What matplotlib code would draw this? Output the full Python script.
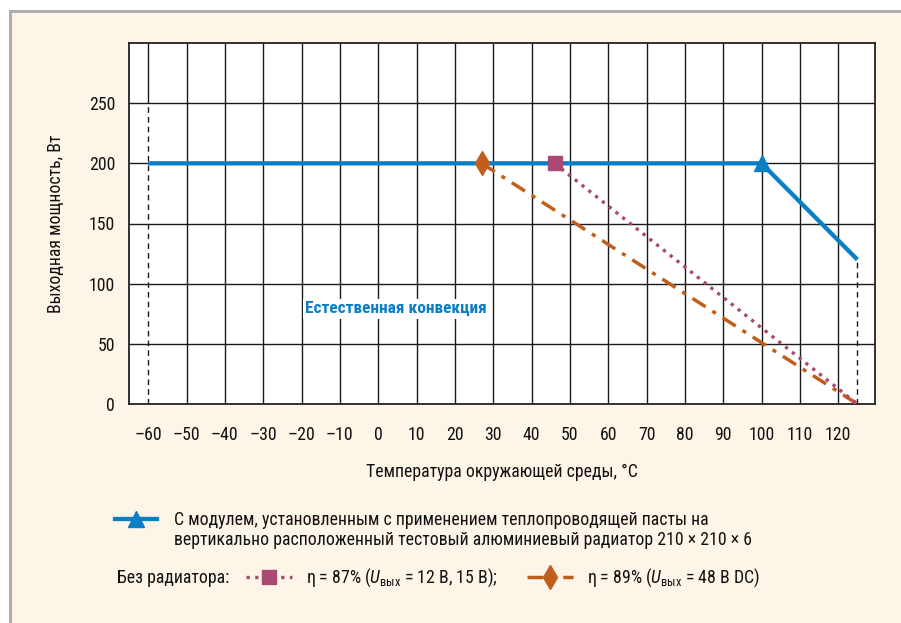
import matplotlib
matplotlib.use("Agg")
import matplotlib.pyplot as plt
from matplotlib import font_manager as fm
from matplotlib.lines import Line2D
from matplotlib.patches import Rectangle

# pick a narrow font if one is installed
fam = 'Liberation Sans'
for f in ['Roboto Condensed', 'Liberation Sans Narrow', 'DejaVu Sans Condensed', 'Open Sans Condensed']:
    try:
        fm.findfont(fm.FontProperties(family=f), fallback_to_default=False)
        fam = f
        break
    except ValueError:
        pass
plt.rcParams['font.family'] = [fam, 'DejaVu Sans']
plt.rcParams['mathtext.fontset'] = 'custom'
plt.rcParams['mathtext.rm'] = fam
plt.rcParams['mathtext.it'] = fam + ':italic'

# data
t_conv = [-60, 100, 125]
p_conv = [200, 200, 120]
t_87 = [46, 125]
p_87 = [200, 0]
t_89 = [27, 125]
p_89 = [200, 0]
x_ticks = list(range(-60, 121, 10))
y_ticks = [0, 50, 100, 150, 200, 250]

blue = '#0a7fc6'
pink = '#a84a72'
orange = '#c05f1c'
cream = '#fdf5e8'
fs = 12.8

fig = plt.figure(figsize=(9.01, 6.23), dpi=100)
fig.patch.set_facecolor('white')
fig.patches.append(Rectangle((10 / 901, 0), 1, 1 - 11 / 623, transform=fig.transFigure,
                             facecolor=cream, edgecolor='none', zorder=-2))
fig.add_artist(Line2D([10 / 901, 1], [1 - 11 / 623] * 2, transform=fig.transFigure,
                      color='#a9a9a9', lw=2, zorder=-1))
fig.add_artist(Line2D([10 / 901] * 2, [0, 1 - 11 / 623], transform=fig.transFigure,
                      color='#a9a9a9', lw=2, zorder=-1))

ax = fig.add_axes([129 / 901, 1 - 404 / 623, 746 / 901, 361 / 623])
ax.set_facecolor('white')
ax.set_xlim(-65, 129.6)
ax.set_ylim(0, 300)

# grid
gc = '#1a1a1a'
for x in x_ticks:
    if x == x_ticks[0]:
        ax.vlines(x, 250, 300, color=gc, lw=1, zorder=1)
        ax.vlines(x, 0, 250, color=gc, lw=1, linestyles=(0, (4, 3)), zorder=1)
    else:
        ax.vlines(x, 0, 300, color=gc, lw=1, zorder=1)
for y in y_ticks[1:]:
    ax.hlines(y, -65, 129.6, color=gc, lw=1, zorder=1)
ax.vlines(t_conv[-1], 0, p_conv[-1], color=gc, lw=1, linestyles=(0, (4, 3)), zorder=1)

for s in ax.spines.values():
    s.set_linewidth(1.3)
    s.set_color('#222222')

ax.set_xticks(x_ticks)
ax.set_yticks(y_ticks)
ax.xaxis.set_major_formatter(lambda v, p: f'{v:.0f}'.replace('-', '\u2013'))
ax.tick_params(length=0, labelsize=fs, colors='#111111')
ax.tick_params(axis='x', pad=15.5)
ax.tick_params(axis='y', pad=10)

ls87 = (0, (1, 1.6))
ls89 = (0, (4.5, 2.3, 1.2, 2.3))

ax.plot(t_89, p_89, color=orange, lw=2.5, ls=ls89, zorder=3, dash_capstyle='butt')
ax.plot(t_89[:1], p_89[:1], marker='d', ms=12.5, color=orange, ls='none', zorder=5)
ax.plot(t_87, p_87, color=pink, lw=2.4, ls=ls87, zorder=3, dash_capstyle='butt')
ax.plot(t_conv, p_conv, color=blue, lw=3.1, zorder=4, solid_capstyle='butt')
ax.plot(t_conv[1:2], p_conv[1:2], marker='^', ms=11, color=blue, ls='none', zorder=5)
ax.plot(t_87[:1], p_87[:1], marker='s', ms=10, color=pink, ls='none', zorder=5)

ax.text(4.7, 79, 'Естественная конвекция', color=blue, fontsize=12.5, fontweight='bold',
        ha='center', va='center', zorder=6,
        bbox=dict(facecolor='white', edgecolor='none', pad=1.5))

ax.set_xlabel('Температура окружающей среды, °C', fontsize=fs, labelpad=14, color='#111111')
ax.set_ylabel('Выходная мощность, Вт', fontsize=fs, labelpad=17, color='#111111')

# legend
h_conv = Line2D([], [], color=blue, lw=3.1, marker='^', ms=11)
h_87 = Line2D([], [], color=pink, lw=2.4, ls=ls87, marker='s', ms=10)
h_89 = Line2D([], [], color=orange, lw=2.5, ls=ls89, marker='d', ms=12)

leg1 = fig.legend([h_conv], ['С модулем, установленным с применением теплопроводящей пасты на'],
                  loc='center left', bbox_to_anchor=(115 / 901, 1 - 520 / 623),
                  frameon=False, borderpad=0, borderaxespad=0, fontsize=fs,
                  handlelength=2.35, handletextpad=0.95)
fig.text(174 / 901, 1 - 540 / 623, 'вертикально расположенный тестовый алюминиевый радиатор 210 × 210 × 6',
         fontsize=fs, va='center', ha='left', color='#111111')
fig.text(117 / 901, 1 - 578 / 623, 'Без радиатора:', fontsize=fs, va='center', ha='left',
         color='#111111')
leg2 = fig.legend([h_87, h_89],
                  [r'η = 87% ($\it{U}_{\rm вых}$ = 12 В, 15 В);',
                   r'η = 89% ($\it{U}_{\rm вых}$ = 48 В DC)'],
                  loc='center left', bbox_to_anchor=(246 / 901, 1 - 578 / 623), ncol=2,
                  frameon=False, borderpad=0, borderaxespad=0, fontsize=fs,
                  handlelength=2.6, handletextpad=0.8, columnspacing=1.6)
for t in leg1.get_texts() + leg2.get_texts():
    t.set_color('#111111')

fig.savefig('out.png', dpi=100)
